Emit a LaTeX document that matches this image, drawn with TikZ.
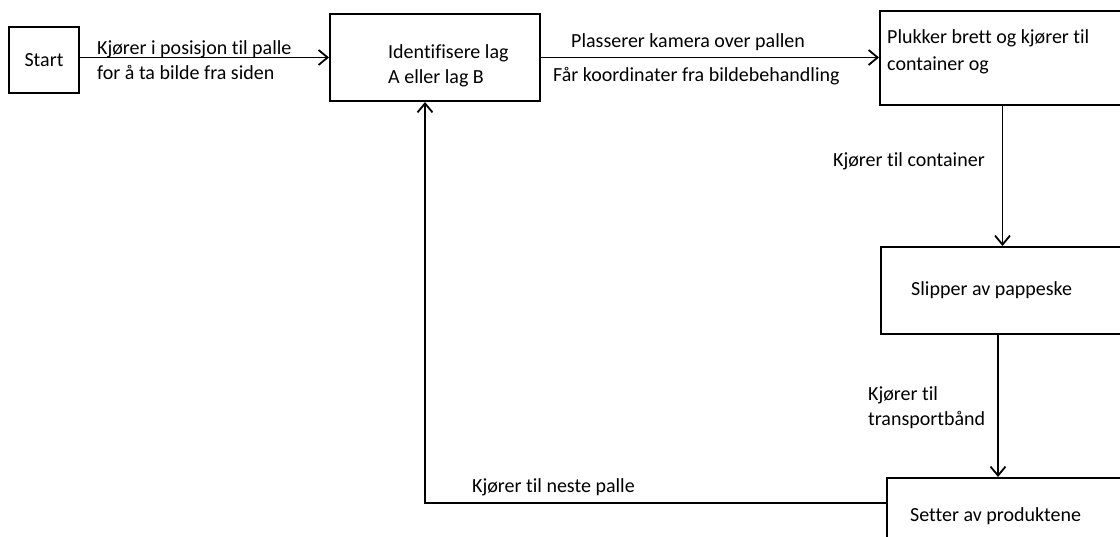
\documentclass[tikz,border=0pt]{standalone}
\usepackage{fontspec}
\setmainfont{Carlito}[Ligatures=NoCommon]
\usetikzlibrary{arrows.meta}
\begin{document}
\begin{tikzpicture}[x=1pt,y=-1pt,
  every node/.style={font=\fontsize{20}{25}\selectfont},
  box/.style={draw, line width=2pt, rectangle, inner sep=0pt},
  lbl/.style={inner sep=0pt, anchor=base west},
  lbl2/.style={inner sep=0pt, anchor=west, align=left},
  arr/.style={line width=1.8pt, -{Straight Barb[length=9pt,width=15pt,line width=1.8pt]}}]
\useasboundingbox (0,0) rectangle (1120,537);
\clip (0,0) rectangle (1120,537);
% process boxes
\node[box, minimum width=70pt, minimum height=66pt] (start) at (44,60) {Start};
\node[box, minimum width=210pt, minimum height=87pt] (ident) at (435,57.5) {};
\node[box, minimum width=245pt, minimum height=94pt] (pluk) at (1002.5,58) {};
\node[box, minimum width=244pt, minimum height=87pt] (slip) at (1003,290.5) {};
\node[box, minimum width=238pt, minimum height=67pt] (sett) at (1006,511.5) {};
% box texts
\node[lbl2] (identtxt) at (388,66) {Identifisere lag\\A eller lag B};
\node[lbl2] (pluktxt) at (887,51.5) {Plukker brett og kjører til\\[2pt]container og};
\node[lbl] (sliptxt) at (911,296) {Slipper av pappeske};
\node[lbl] (setttxt) at (910,521) {Setter av produktene};
% connectors
\draw[arr] (start.east |- ident.west) -- (ident.west);
\draw[arr] (ident.east) -- (ident.east -| pluk.west);
\draw[arr] (pluk.south) -- (pluk.south |- slip.north);
\draw[arr] ([xshift=-5pt]slip.south) -- ([xshift=-5pt]slip.south |- sett.north);
\draw[arr] ([yshift=8.5pt]sett.west) -| ([xshift=-10pt]ident.south);
% connector labels
\node[lbl2] (l1) at (97,60) {Kjører i posisjon til palle\\for å ta bilde fra siden};
\node[lbl] (l2a) at (571,48) {Plasserer kamera over pallen};
\node[lbl] (l2b) at (553,82) {Får koordinater fra bildebehandling};
\node[lbl] (l3) at (833,167) {Kjører til container};
\node[lbl2] (l4) at (868,408) {Kjører til\\transportbånd};
\node[lbl] (l5) at (472,493) {Kjører til neste palle};
\end{tikzpicture}
\end{document}
